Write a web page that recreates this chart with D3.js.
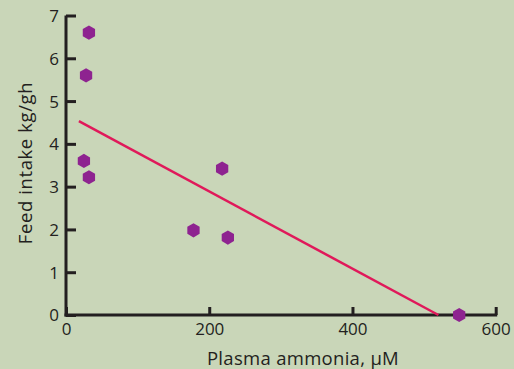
<!DOCTYPE html>
<html>
<head>
<meta charset="utf-8">
<script src="https://cdn.jsdelivr.net/npm/d3@7.9.0/dist/d3.min.js"></script>
<style>
  html, body { margin: 0; padding: 0; background: #c9d6b8; }
  svg { display: block; font-family: "Open Sans", sans-serif; }
</style>
</head>
<body>
<svg id="chart"></svg>
<script>
// Data
const ammonia = [32, 28, 25, 32, 178, 226, 218, 549];
const intake  = [6.6, 5.6, 3.6, 3.22, 1.98, 1.81, 3.42, 0];
const fitX = [18, 520];
const fitY = [4.53, 0];
const xTicks = [0, 200, 400, 600];
const yTicks = [0, 1, 2, 3, 4, 5, 6, 7];

const W = 514, H = 369;
const margin = { top: 15.5, right: 18, bottom: 54, left: 66 },
      width = W - margin.left - margin.right,
      height = H - margin.top - margin.bottom;

const svg = d3.select("#chart")
  .attr("width", W)
  .attr("height", H);

svg.append("rect").attr("width", W).attr("height", H).attr("fill", "#c9d6b8");

const g = svg.append("g")
  .attr("transform", `translate(${margin.left},${margin.top})`);

const x = d3.scaleLinear().domain([0, 600]).range([0, 429.7]);
const y = d3.scaleLinear().domain([0, 7]).range([height, 0]);

const ink = "#231f20";

// Axes (ticks point inward)
const xAxis = g.append("g")
  .attr("transform", `translate(0,${height})`)
  .call(d3.axisBottom(x).tickValues(xTicks).tickFormat(d3.format("d"))
    .tickSize(-8).tickSizeOuter(0));
const yAxis = g.append("g")
  .call(d3.axisLeft(y).tickValues(yTicks).tickFormat(d3.format("d"))
    .tickSize(-10).tickSizeOuter(0));

[xAxis, yAxis].forEach(a => {
  a.select(".domain").attr("stroke", ink).attr("stroke-width", 3);
  a.selectAll(".tick line").attr("stroke", ink).attr("stroke-width", 3);
  a.selectAll(".tick text")
    .attr("fill", ink)
    .attr("font-size", 17)
    .attr("font-family", "Open Sans, sans-serif");
});
// y labels sit left of axis
yAxis.selectAll(".tick text").attr("x", -7).attr("dy", "0.35em");
xAxis.selectAll(".tick text").attr("y", 8).attr("dy", "0.71em");
// extend domains so axes meet at the corner
xAxis.select(".domain").attr("d", `M-1.5,0H${x(600) + 1.5}`);
yAxis.select(".domain").attr("d", `M0,0V${height + 1.5}`);

// Regression line
g.append("line")
  .attr("x1", x(fitX[0])).attr("y1", y(fitY[0]))
  .attr("x2", x(fitX[1])).attr("y2", y(fitY[1]))
  .attr("stroke", "#e0195a")
  .attr("stroke-width", 2.5);

// Hexagon points
const hex = d3.range(6).map(i => {
  const a = Math.PI / 6 + i * Math.PI / 3;
  return [7.1 * Math.cos(a), 7.1 * Math.sin(a)];
});
g.selectAll("path.pt")
  .data(ammonia.map((v, i) => ({ a: v, f: intake[i] })))
  .join("path")
  .attr("class", "pt")
  .attr("transform", d => `translate(${x(d.a)},${y(d.f)})`)
  .attr("d", "M" + hex.join("L") + "Z")
  .attr("fill", "#8e2390");

// Axis titles
svg.append("text")
  .attr("x", 303)
  .attr("y", 365)
  .attr("text-anchor", "middle")
  .attr("font-size", 18.5)
  .attr("letter-spacing", 0.3)
  .attr("fill", ink)
  .text("Plasma ammonia, µM");

svg.append("text")
  .attr("transform", "translate(32,163) rotate(-90)")
  .attr("text-anchor", "middle")
  .attr("font-size", 18.5)
  .attr("letter-spacing", 0.6)
  .attr("fill", ink)
  .text("Feed intake kg/gh");
</script>
</body>
</html>
